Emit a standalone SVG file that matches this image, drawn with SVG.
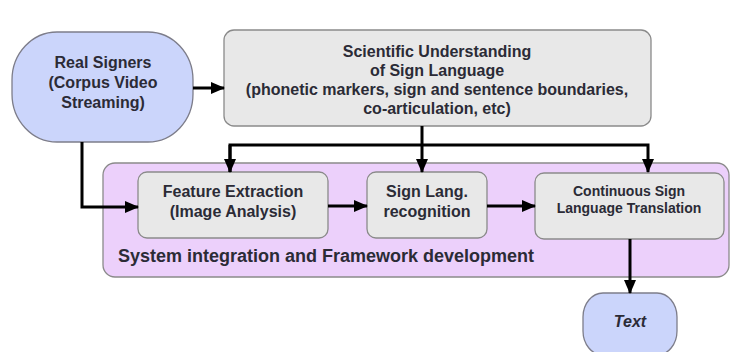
<svg xmlns="http://www.w3.org/2000/svg" width="733" height="352" viewBox="0 0 733 352">
<style>
text{font-family:"Liberation Sans",Arial,sans-serif;font-weight:bold;fill:#2b2b36;text-anchor:middle}
.box{fill:#e8e8e8;stroke:#8a8a8a;stroke-width:1.3}
.blue{fill:#cbd5fb;stroke:#7d7d8a;stroke-width:1.3}
.con{fill:none;stroke:#000;stroke-width:3}
</style>
<defs>
<marker id="ah" markerUnits="userSpaceOnUse" markerWidth="14" markerHeight="12" refX="13" refY="6" orient="auto">
<path d="M0,0 L14,6 L0,12 Z" fill="#000"/>
</marker>
</defs>
<rect width="733" height="352" fill="#fff"/>
<g id="framework">
<rect x="103" y="163" width="626" height="114" rx="12" fill="#ecd0fb" stroke="#8a8a8a" stroke-width="1.3"/>
<text x="118" y="262" style="font-size:18px;text-anchor:start">System integration and Framework development</text>
</g>
<g id="real-signers">
<rect class="blue" x="12" y="32" width="181" height="110" rx="45" ry="48"/>
<text x="103" y="68" font-size="16">Real Signers</text>
<text x="103" y="88" font-size="16">(Corpus Video</text>
<text x="103" y="108" font-size="16">Streaming)</text>
</g>
<g id="scientific">
<rect class="box" x="224" y="30" width="427" height="96" rx="10"/>
<text x="437" y="57" font-size="16">Scientific Understanding</text>
<text x="437" y="76" font-size="16">of Sign Language</text>
<text x="437" y="95" font-size="16">(phonetic markers, sign and sentence boundaries,</text>
<text x="437" y="114" font-size="16">co-articulation, etc)</text>
</g>
<g id="feature">
<rect class="box" x="138" y="172" width="190" height="66" rx="9"/>
<text x="233" y="197" font-size="16">Feature Extraction</text>
<text x="233" y="217" font-size="16">(Image Analysis)</text>
</g>
<g id="recognition">
<rect class="box" x="367" y="172" width="120" height="66" rx="9"/>
<text x="427" y="197" font-size="16">Sign Lang.</text>
<text x="427" y="217" font-size="16">recognition</text>
</g>
<g id="translation">
<rect class="box" x="535" y="173" width="189" height="66" rx="9"/>
<text x="629" y="196" font-size="14">Continuous Sign</text>
<text x="629" y="213" font-size="14">Language Translation</text>
</g>
<g id="text-out">
<rect class="blue" x="583" y="293" width="94" height="62" rx="20" ry="24"/>
<text x="630" y="327" font-size="16" font-style="italic">Text</text>
</g>
<g id="connectors">
<line class="con" x1="193" y1="88" x2="224" y2="88" marker-end="url(#ah)"/>
<polyline class="con" points="82,142 82,207 138,207" marker-end="url(#ah)"/>
<line class="con" x1="422" y1="126" x2="422" y2="145"/>
<polyline class="con" points="230,172 230,145 648,145 648,172" marker-end="url(#ah)"/>
<line class="con" x1="230" y1="145" x2="230" y2="172" marker-end="url(#ah)"/>
<line class="con" x1="422" y1="145" x2="422" y2="172" marker-end="url(#ah)"/>
<line class="con" x1="328" y1="206" x2="367" y2="206" marker-end="url(#ah)"/>
<line class="con" x1="487" y1="206" x2="535" y2="206" marker-end="url(#ah)"/>
<line class="con" x1="630" y1="239" x2="630" y2="293" marker-end="url(#ah)"/>
</g>
</svg>
